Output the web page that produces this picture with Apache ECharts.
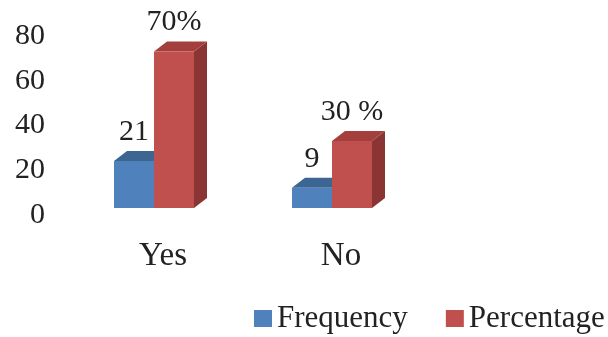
<!DOCTYPE html>
<html>
<head>
<meta charset="utf-8">
<script src="https://cdn.jsdelivr.net/npm/echarts@6/dist/echarts.min.js"></script>
<style>
  html, body { margin: 0; padding: 0; background: #fff; }
  #chart { width: 608px; height: 337px; }
</style>
</head>
<body>
<div id="chart"></div>
<script>
// data
const categories = ['Yes', 'No'];
const frequency = [21, 9];
const percentage = [70, 30];
const frequencyLabels = ['21', '9'];
const percentageLabels = ['70%', '30 %'];
const yTicks = [0, 20, 40, 60, 80];

const FONT = 'Liberation Serif';
const FS = 30;
const BAR_W = 40;
const DX = 13, DY = -10; // fake depth

// colours: front, top, side
const blue = ['#4f81bd', '#3c6591', '#36597f'];
const red = ['#c0504d', '#a3403d', '#8a3533'];

function bar3d(side, colors, labels) {
  return function (params, api) {
    const i = api.value(0);
    const v = api.value(1);
    const base = api.coord([i, 0]);
    const top = api.coord([i, v]);
    const x0 = side === 0 ? base[0] - BAR_W : base[0];
    const x1 = x0 + BAR_W;
    const y0 = base[1], y1 = top[1];
    return {
      type: 'group',
      children: [
        { type: 'polygon', shape: { points: [[x1, y0], [x1 + DX, y0 + DY], [x1 + DX, y1 + DY], [x1, y1]] },
          style: { fill: colors[2] } },
        { type: 'polygon', shape: { points: [[x0, y1], [x1, y1], [x1 + DX, y1 + DY], [x0 + DX, y1 + DY]] },
          style: { fill: colors[1] } },
        { type: 'rect', shape: { x: x0, y: y1, width: BAR_W, height: y0 - y1 },
          style: { fill: colors[0] } },
        { type: 'text', x: (x0 + x1) / 2, y: y1 - 29,
          style: { text: labels[params.dataIndex], font: FS + 'px "' + FONT + '"', fill: '#222',
                   align: 'center', verticalAlign: 'middle' } }
      ]
    };
  };
}

const chart = echarts.init(document.getElementById('chart'));
chart.setOption({
  animation: false,
  backgroundColor: '#fff',
  grid: { left: 65, right: 187, top: 29, bottom: 129 },
  legend: {
    left: 254, top: 303, padding: 0, width: 354,
    icon: 'rect', itemWidth: 18, itemHeight: 17, itemGap: 38,
    textStyle: { fontFamily: FONT, fontSize: 31, color: '#222' },
    data: [
      { name: 'Frequency', itemStyle: { color: blue[0] } },
      { name: 'Percentage', itemStyle: { color: red[0] } }
    ]
  },
  xAxis: {
    type: 'category',
    data: categories,
    axisLine: { show: false },
    axisTick: { show: false },
    axisLabel: { fontFamily: FONT, fontSize: 33, color: '#222', margin: 32, padding: [0, 0, 0, 18] }
  },
  yAxis: {
    type: 'value',
    min: yTicks[0], max: yTicks[yTicks.length - 1], interval: 20,
    axisLine: { show: false },
    axisTick: { show: false },
    splitLine: { show: false },
    axisLabel: { fontFamily: FONT, fontSize: FS, color: '#222', margin: 20,
                 verticalAlign: 'top', lineHeight: 14 }
  },
  series: [
    {
      name: 'Frequency', type: 'custom',
      itemStyle: { color: blue[0] },
      renderItem: bar3d(0, blue, frequencyLabels),
      encode: { x: 0, y: 1 },
      data: frequency.map((v, i) => [i, v])
    },
    {
      name: 'Percentage', type: 'custom',
      itemStyle: { color: red[0] },
      renderItem: bar3d(1, red, percentageLabels),
      encode: { x: 0, y: 1 },
      data: percentage.map((v, i) => [i, v])
    }
  ]
});
</script>
</body>
</html>
